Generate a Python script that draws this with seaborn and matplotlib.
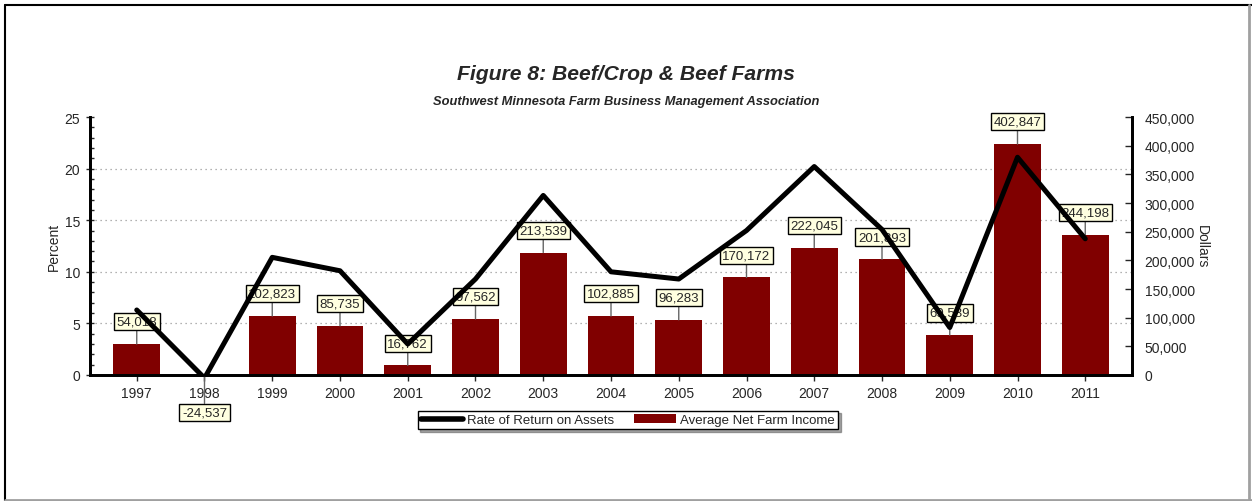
import matplotlib
matplotlib.use("Agg")
import matplotlib.pyplot as plt
import matplotlib.ticker as mticker
from matplotlib.lines import Line2D
import numpy as np
import pandas as pd
import seaborn as sns

years = ["1997", "1998", "1999", "2000", "2001", "2002", "2003", "2004",
         "2005", "2006", "2007", "2008", "2009", "2010", "2011"]
net_income = [54018, -24537, 102823, 85735, 16762, 97562, 213539, 102885,
              96283, 170172, 222045, 201893, 69539, 402847, 244198]
roa_pct = [6.3, -0.3, 11.4, 10.1, 3.0, 9.3, 17.4, 10.0, 9.3, 14.0, 20.2,
           14.1, 4.6, 21.1, 13.2]

sns.set_theme(style="white")
plt.rcParams["font.family"] = ["Liberation Sans", "DejaVu Sans"]

df = pd.DataFrame({"Year": years, "Income": net_income, "ROA": roa_pct})
df["pos"] = np.arange(len(years))

fig = plt.figure(figsize=(12.52, 5.02), dpi=100)
ax = fig.add_axes([90 / 1252, 1 - 376 / 502, (1132 - 90) / 1252, (376 - 118) / 502])
ax2 = ax.twinx()

bar_color = "#800000"
sns.barplot(data=df, x="Year", y="Income", ax=ax, color=bar_color,
            saturation=1, width=0.69, edgecolor="none")
sns.lineplot(data=df, x="pos", y="ROA", ax=ax2, color="black", linewidth=3.6,
             zorder=5)

ax.set_ylim(0, 450000)
ax.set_xlim(-0.69, len(years) - 1 + 0.69)
ax.set_xlabel("")
ax2.set_xlabel("")

# bars -> right axis (Dollars)
ax.yaxis.tick_right()
ax.yaxis.set_label_position("right")
ax.yaxis.set_major_locator(mticker.MultipleLocator(50000))
ax.yaxis.set_major_formatter(mticker.FuncFormatter(lambda v, p: f"{int(v):,}"))
ax.set_ylabel("Dollars", rotation=270, labelpad=10, fontsize=10)
ax.tick_params(axis="y", which="both", direction="in", length=5, width=1,
               labelsize=10, pad=9, right=True, left=False,
               labelright=True, labelleft=False)
ax.tick_params(axis="x", direction="out", length=4, width=1, labelsize=10,
               pad=4, bottom=True)

# line -> left axis (Percent)
ax2.set_ylim(0, 25)
ax2.yaxis.tick_left()
ax2.yaxis.set_label_position("left")
ax2.set_ylabel("Percent", fontsize=10, labelpad=3)
ax2.yaxis.set_major_locator(mticker.MultipleLocator(5))
ax2.yaxis.set_minor_locator(mticker.MultipleLocator(1))
ax2.tick_params(axis="y", which="major", direction="inout", length=6, width=1,
                labelsize=10, pad=4, left=True, right=False,
                labelleft=True, labelright=False)
ax2.tick_params(axis="y", which="minor", direction="in", length=3, width=1,
                left=True, right=False)
for g in [5, 10, 15, 20]:
    ax.axhline(g * 18000, color="#999999", linestyle=(0, (1, 3)),
               linewidth=0.9, zorder=0)

ax.set_zorder(1)
ax2.set_zorder(2)
ax2.patch.set_visible(False)

for a in (ax, ax2):
    a.spines["top"].set_visible(False)
    for s in ("left", "right", "bottom"):
        a.spines[s].set_color("black")
        a.spines[s].set_linewidth(2)

# Bar value callouts
for i, v in enumerate(net_income):
    if v >= 0:
        xy = (i, v)
        off = (0, 16)
    else:
        xy = (i, 0)
        off = (0, -27)
    ax.annotate(f"{v:,}", xy=xy, xytext=off, textcoords="offset points",
                ha="center", va="center", fontsize=9.5, zorder=4,
                bbox=dict(boxstyle="square,pad=0.2", fc="#FFFFE0", ec="black", lw=1),
                arrowprops=dict(arrowstyle="-", color="#666666", lw=1,
                                shrinkA=0, shrinkB=0))

# Titles
fig.text(0.5, 1 - 75 / 502, "Figure 8: Beef/Crop & Beef Farms", ha="center",
         va="center", fontsize=15.2, fontweight="bold", style="italic")
fig.text(0.5, 1 - 102 / 502, "Southwest Minnesota Farm Business Management Association",
         ha="center", va="center", fontsize=9.3, fontweight="bold", style="italic")

# Legend
handles = [Line2D([0], [0], color="black", lw=4),
           plt.Rectangle((0, 0), 1, 1, fc=bar_color, ec="none")]
leg = fig.legend(handles, ["Rate of Return on Assets", "Average Net Farm Income"],
                 loc="center", bbox_to_anchor=(628 / 1252, 1 - 421 / 502), ncol=2,
                 fontsize=9.5, frameon=True, fancybox=False, shadow=True,
                 handlelength=3.2, handletextpad=0.3, columnspacing=1.5,
                 borderpad=0.25, borderaxespad=0)
leg.get_frame().set_edgecolor("black")
leg.get_frame().set_linewidth(1)

# Outer frame
fig.add_artist(Line2D([5 / 1252, 5 / 1252], [0, 1 - 6 / 502], color="black", lw=1.5, transform=fig.transFigure))
fig.add_artist(Line2D([5 / 1252, 1], [1 - 6 / 502, 1 - 6 / 502], color="black", lw=1.5, transform=fig.transFigure))
fig.add_artist(Line2D([1249 / 1252, 1249 / 1252], [0, 1 - 6 / 502], color="#a0a0a0", lw=2, transform=fig.transFigure))
fig.add_artist(Line2D([5 / 1252, 1], [1.5 / 502, 1.5 / 502], color="#a0a0a0", lw=2, transform=fig.transFigure))

fig.savefig("out.png", dpi=100)
